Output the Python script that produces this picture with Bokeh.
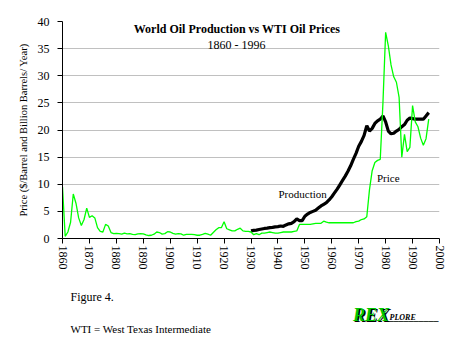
from bokeh.plotting import figure
from bokeh.layouts import column
from bokeh.models import Range1d, Label, FixedTicker
from bokeh.embed import file_html
from bokeh.resources import INLINE

# ---- data ----
price_years = list(range(1860, 1997))
price_values = [
    9.5, 0.4, 1.2, 3.0, 8.2, 6.5, 3.8, 2.4, 3.5, 5.6,      # 1860-1869
    3.9, 4.2, 3.8, 2.0, 1.3, 1.2, 2.6, 2.3, 1.1, 0.9,      # 1870-1879
    0.95, 0.9, 0.8, 1.0, 0.85, 0.9, 0.75, 0.7, 0.85, 0.9,  # 1880-1889
    0.85, 0.65, 0.55, 0.6, 0.8, 1.2, 1.1, 0.8, 0.9, 1.25,  # 1890-1899
    1.2, 0.95, 0.8, 0.9, 0.85, 0.6, 0.75, 0.75, 0.75, 0.7, # 1900-1909
    0.6, 0.6, 0.75, 0.95, 0.8, 0.6, 1.1, 1.6, 2.0, 2.0,    # 1910-1919
    3.1, 1.8, 1.6, 1.4, 1.4, 1.7, 1.9, 1.4, 1.3, 1.3,      # 1920-1929
    1.2, 0.7, 0.9, 0.7, 1.0, 1.0, 1.1, 1.2, 1.1, 1.0,      # 1930-1939
    1.0, 1.1, 1.2, 1.2, 1.2, 1.2, 1.3, 1.4, 2.6, 2.6,      # 1940-1949
    2.6, 2.6, 2.6, 2.7, 2.8, 2.8, 2.8, 3.2, 3.0, 2.9,      # 1950-1959
    2.9, 2.9, 2.9, 2.9, 2.9, 2.9, 2.9, 2.9, 2.9, 3.1,      # 1960-1969
    3.2, 3.5, 3.6, 4.0, 9.0, 12.5, 14.0, 14.4, 14.6, 25.0, # 1970-1979
    38.0, 35.5, 32.0, 29.8, 28.8, 26.0, 15.0, 19.2, 16.0, 16.8, # 1980-1989
    24.5, 21.5, 20.6, 18.5, 17.2, 18.4, 22.0,              # 1990-1996
]

prod_years = list(range(1930, 1997))
prod_values = [
    1.4, 1.5, 1.55, 1.65, 1.75, 1.85, 1.9, 2.0, 2.05, 2.15,   # 1930-1939
    2.2, 2.3, 2.25, 2.5, 2.7, 2.8, 3.1, 3.6, 3.3, 3.3,        # 1940-1949
    4.1, 4.5, 4.8, 5.0, 5.2, 5.6, 6.0, 6.3, 6.6, 7.1,         # 1950-1959
    7.7, 8.4, 9.1, 9.9, 10.7, 11.5, 12.4, 13.4, 14.6, 15.7,   # 1960-1969
    17.0, 17.9, 19.0, 20.8, 19.8, 20.3, 21.2, 21.7, 22.0, 22.6, # 1970-1979
    21.5, 19.8, 19.3, 19.4, 19.8, 20.1, 20.6, 21.0, 21.8, 22.2, # 1980-1989
    22.1, 22.0, 22.0, 22.0, 22.0, 22.6, 23.2,                 # 1990-1996
]

x_ticks = list(range(1860, 2001, 10))
y_ticks = list(range(0, 41, 5))

title_text = "World Oil Production vs WTI Oil Prices"
subtitle_text = "1860 - 1996"
y_label_text = "Price ($/Barrel and Billion Barrels/ Year)"
figure_note = "Figure 4."
wti_note = "WTI = West Texas Intermediate"

# ---- layout (pixels) ----
W, H = 470, 352
H1 = 280                      # chart part; the notes strip fills the rest
L, R, T, B = 62, 31, 21, H1 - 238
X0, X1, Y0, Y1 = 1860, 2000, 0, 40
FW, FH = W - L - R, H1 - T - B

def px_x(px):
    return X0 + (px - L) * (X1 - X0) / FW

def px_y(py):
    return Y0 + (H1 - B - py) * (Y1 - Y0) / FH

SERIF = "'Liberation Serif', 'Times New Roman', serif"

p = figure(width=W, height=H1, output_backend="svg", toolbar_location=None,
           x_range=Range1d(X0, X1), y_range=Range1d(Y0, Y1),
           min_border_left=L, min_border_right=R, min_border_top=T,
           min_border_bottom=B)
p.outline_line_color = None
p.background_fill_color = "white"
p.border_fill_color = "white"

p.xgrid.grid_line_color = None
p.ygrid.grid_line_color = "#c0c0c0"
p.ygrid.grid_line_width = 1

p.xaxis.ticker = FixedTicker(ticks=x_ticks)
p.yaxis.ticker = FixedTicker(ticks=y_ticks)
for ax in (p.xaxis[0], p.yaxis[0]):
    ax.axis_line_color = "black"
    ax.major_tick_line_color = "black"
    ax.minor_tick_line_color = None
    ax.major_tick_in = 0
    ax.major_tick_out = 5
    ax.major_label_text_font = SERIF
    ax.major_label_text_color = "black"
p.xaxis.major_label_orientation = "vertical"
p.xaxis.major_label_text_font_size = "12px"
p.xaxis.major_label_standoff = 2
p.yaxis.major_label_text_font_size = "12px"
p.yaxis.major_label_standoff = 8
p.yaxis.axis_label = y_label_text
p.yaxis.axis_label_text_font = SERIF
p.yaxis.axis_label_text_font_style = "normal"
p.yaxis.axis_label_text_font_size = "10.5px"
p.yaxis.axis_label_text_color = "black"
p.yaxis.axis_label_standoff = 6

p.line(prod_years, prod_values, line_color="black", line_width=3.2)
p.line(price_years, price_values, line_color="#00ff00", line_width=1.3)

def add_label(fig, text, x, y, size, align="left", style="normal", color="black"):
    fig.add_layout(Label(x=x, y=y, text=text, text_font=SERIF,
                         text_font_size=size, text_font_style=style,
                         text_color=color, text_align=align,
                         text_baseline="middle"))

add_label(p, title_text, px_x(236.5), px_y(28.5), "12px", align="center", style="bold")
add_label(p, subtitle_text, px_x(236), px_y(44), "12px", align="center")
add_label(p, "Production", px_x(278), px_y(193.5), "11px")
add_label(p, "Price", px_x(376.5), px_y(177), "11px")

# ---- notes strip below the chart ----
# its frame is aligned with the chart frame by the column layout, so the x
# range spans the frame's page pixels (L .. W-R); y runs downward in page px.
H2 = H - H1
q = figure(width=W, height=H2, output_backend="svg", toolbar_location=None,
           x_range=Range1d(L, W - R), y_range=Range1d(H, H1),
           min_border_left=L, min_border_right=R, min_border_top=0,
           min_border_bottom=0, x_axis_type=None, y_axis_type=None)
q.outline_line_color = None
q.grid.grid_line_color = None
q.background_fill_color = "white"
q.border_fill_color = "white"

add_label(q, figure_note, 70, 296, "12px")
add_label(q, wti_note, 70, 328, "11px")
# logo
add_label(q, "REX", 354, 315.5, "18px", style="bold italic", color="black")
add_label(q, "REX", 352.5, 314.5, "18px", style="bold italic", color="#00c800")
add_label(q, "PLORE", 389, 317, "8px", style="bold italic", color="black")
add_label(q, "__________", 388, 316, "10px", style="bold", color="black")

layout = column(p, q, spacing=0)
open("out.html", "w").write(file_html(layout, INLINE))
